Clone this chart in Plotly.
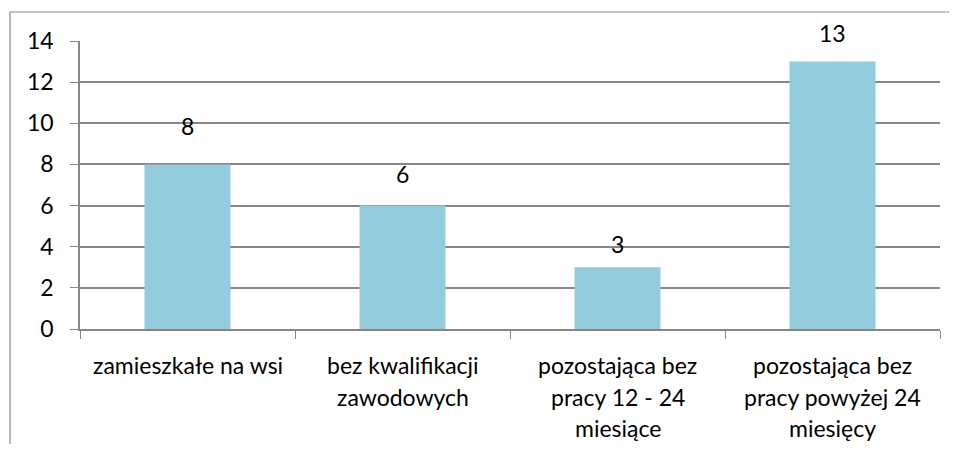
import plotly.graph_objects as go

categories = ["zamieszkałe na wsi", "bez kwalifikacji zawodowych",
              "pozostająca bez pracy 12 - 24 miesiące",
              "pozostająca bez pracy powyżej 24 miesięcy"]
values = [8, 6, 3, 13]
tick_lines = [["zamieszkałe na wsi"],
              ["bez kwalifikacji", "zawodowych"],
              ["pozostająca bez", "pracy 12 - 24", "miesiące"],
              ["pozostająca bez", "pracy powyżej 24", "miesięcy"]]

FONT = "Lato"
FS = 23
GRID = "#868686"
YMAX = 14
PLOT_H = 288
px_per_unit = PLOT_H / YMAX

fig = go.Figure()
fig.add_trace(go.Bar(x=categories, y=values, marker_color="#93CDDD",
                     marker_line_width=0, showlegend=False))

annotations = []
for c, v in zip(categories, values):
    shift = min(14 + 3 * v, (YMAX + 0.4 - v) * px_per_unit)
    annotations.append(dict(x=c, y=v, xref="x", yref="y", text=str(v),
                            showarrow=False, yanchor="middle",
                            yshift=shift,
                            font=dict(family=FONT, size=FS, color="black")))
for c, lines in zip(categories, tick_lines):
    for i, line in enumerate(lines):
        annotations.append(dict(x=c, y=0, xref="x", yref="paper", text=line,
                                showarrow=False, yanchor="middle",
                                yshift=-36 - 31.7 * i,
                                font=dict(family=FONT, size=FS, color="black")))

fig.update_layout(
    width=941, height=436,
    margin=dict(l=72, r=9, t=33, b=115),
    paper_bgcolor="white", plot_bgcolor="white",
    bargap=0.6,
    font=dict(family=FONT, size=FS, color="black"),
    annotations=annotations,
    shapes=[dict(type="rect", xref="paper", yref="paper",
                 x0=-0.0814, x1=1.05, y0=-0.6, y1=1.1007,
                 line=dict(color="#8c8c8c", width=1.2), layer="below")],
)
fig.update_xaxes(showticklabels=False, ticks="outside", tickson="boundaries",
                 ticklen=8, tickcolor=GRID, showline=True, linecolor=GRID,
                 linewidth=1.5, showgrid=False)
fig.update_yaxes(range=[0, YMAX], dtick=2, showgrid=True, gridcolor=GRID,
                 gridwidth=1.5, showline=True, linecolor=GRID, linewidth=1.5,
                 ticks="outside", ticklen=8, tickcolor=GRID,
                 ticklabelstandoff=12, zeroline=False,
                 tickfont=dict(family=FONT, size=FS, color="black"))

fig.write_html("out.html")
